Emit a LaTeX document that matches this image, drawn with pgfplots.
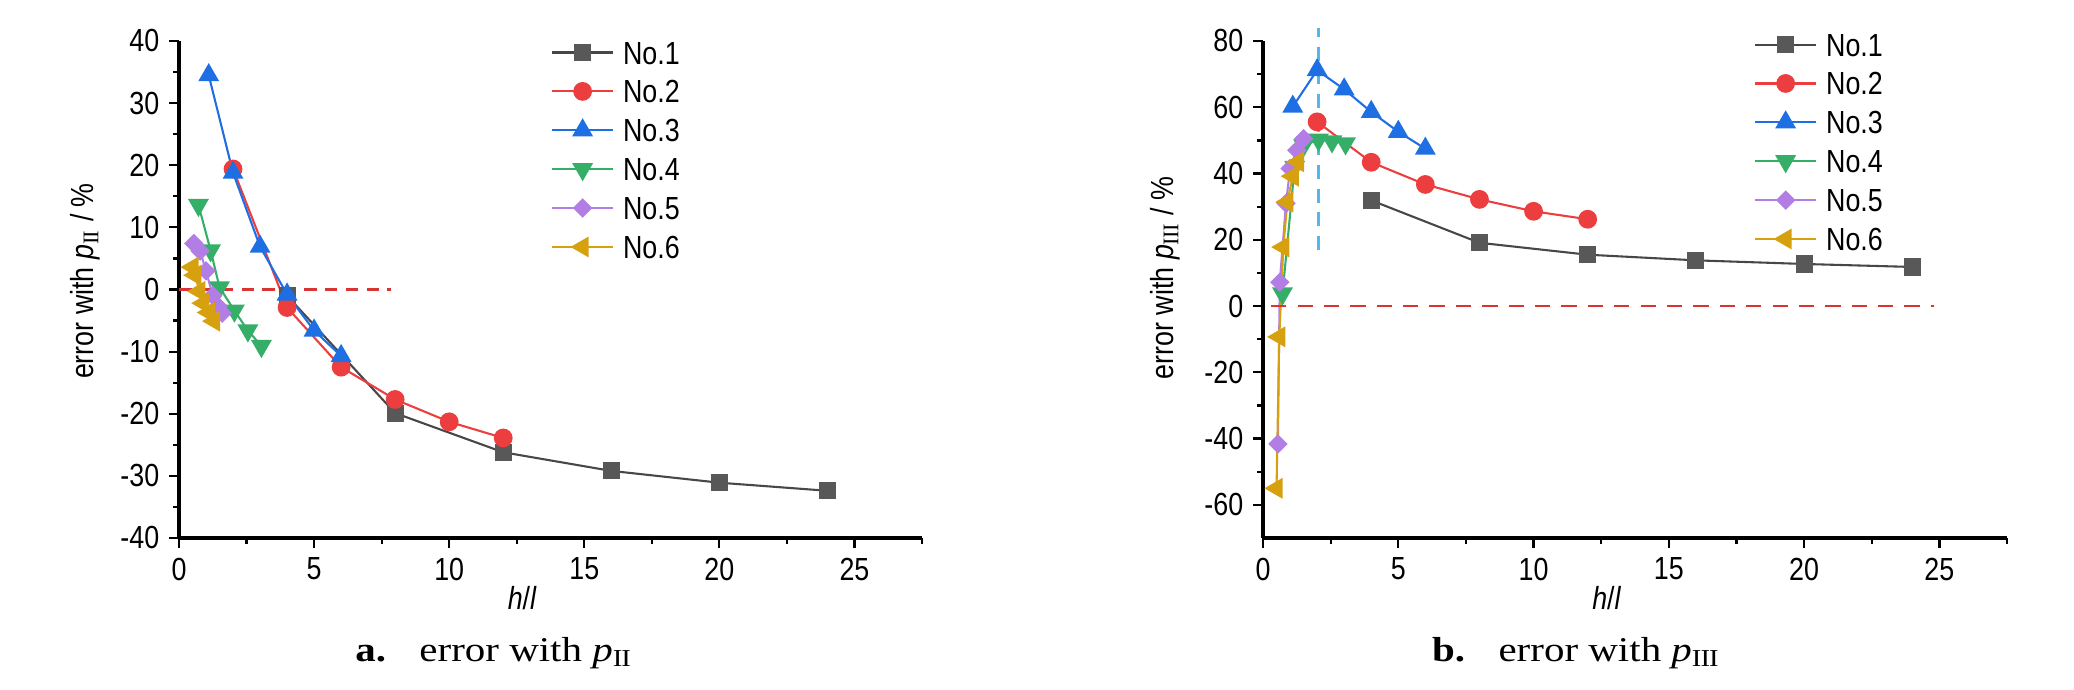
\documentclass[border=0pt]{standalone}
\usepackage{fontspec}
\setmainfont{Liberation Serif}
\setsansfont[FakeStretch=0.84]{Liberation Sans}
\newfontfamily\capfont[FakeStretch=1.18]{Liberation Serif}
\usepackage{pgfplots}
\pgfplotsset{compat=1.18}
\definecolor{c1}{HTML}{474747}
\definecolor{c1m}{HTML}{585858}
\definecolor{c2}{HTML}{EC3E3E}
\definecolor{c3}{HTML}{1E6FE3}
\definecolor{c4}{HTML}{35AE68}
\definecolor{c5}{HTML}{B27EE6}
\definecolor{c6}{HTML}{D6A00E}
\definecolor{zred}{HTML}{D93434}
\definecolor{zblue}{HTML}{55B6EE}
\newcommand{\chartfont}{\sffamily\fontsize{11.5}{13.5}\selectfont}
\pgfplotsset{
  myax/.style={
    scale only axis, anchor=south west,
    axis x line*=bottom, axis y line*=left,
    axis line style={-, line width=1.1pt, black},
    tick align=outside,
    major tick length=3.6pt, minor tick length=2pt,
    every tick/.style={line width=0.8pt, black},
    xmin=0, xmax=27.5, xtick={0,5,...,25}, minor xtick={2.5,7.5,...,27.5},
    ticklabel style={font=\chartfont},
    /pgf/number format/assume math mode=true,
    label style={font=\chartfont},
    xlabel={\textit{h}/\textit{l}},
    legend style={draw=none, fill=none, inner sep=0pt, outer sep=0pt,
      font=\chartfont, row sep=5.7pt,
      nodes={inner sep=0pt, text height=8.3pt, text depth=0pt},
      /tikz/every odd column/.append style={column sep=3.2pt},
      cells={anchor=west}},
    legend image code/.code={\draw[mark repeat=2,mark phase=2,#1] plot coordinates {(0pt,0pt) (11pt,0pt) (22pt,0pt)};},
    every axis plot/.append style={line width=0.75pt},
  },
  s1/.style={color=c1, mark=square*, mark size=2.7pt, mark options={fill=c1m, draw=c1m}},
  s2/.style={color=c2, mark=*, mark size=3pt, mark options={fill=c2}},
  s3/.style={color=c3, mark=triangle*, mark size=3.6pt, mark options={fill=c3}},
  s4/.style={color=c4, mark=triangle*, mark size=3.6pt, mark options={fill=c4, rotate=180}},
  s5/.style={color=c5, mark=square*, mark size=2.1pt, mark options={fill=c5, rotate=45}},
  s6/.style={color=c6, mark=triangle*, mark size=3.6pt, mark options={fill=c6, rotate=90}},
}
\begin{document}
\begin{tikzpicture}
\path[use as bounding box] (0,0) rectangle (746.64pt,248.4pt);
% ---------- a ----------
\begin{axis}[myax,
  at={(64.44pt,54.72pt)}, width=267.48pt, height=178.92pt,
  ymin=-40, ymax=40, ytick={-40,-30,...,40}, minor ytick={-35,-25,...,35},
  ylabel={error with \textit{p}\textsubscript{\rmfamily I\kern-0.04em I} / \%},
  ylabel style={at={(axis description cs:-0.1265,0.517)}, anchor=center},
  xlabel style={at={(axis description cs:0.462,-0.12)}, anchor=center},
  legend style={at={(0.5007,1.0)}, anchor=north west},
]
\addplot[s1] coordinates {(4,-1) (8,-19.9) (12,-26.2) (16,-29.2) (20,-31.1) (24,-32.4)};
\addlegendentry{No.1}
\addplot[s2] coordinates {(2,19.4) (4,-2.9) (6,-12.5) (8,-17.7) (10,-21.3) (12,-23.9)};
\addlegendentry{No.2}
\addplot[s3] coordinates {(1.1,34.5) (2,18.8) (3,6.9) (4,-0.8) (5,-6.6) (6,-10.7)};
\addlegendentry{No.3}
\addplot[s4] coordinates {(0.72,13.6) (1.17,6.3) (1.5,0.35) (2.05,-3.4) (2.55,-6.6) (3.05,-9.1)};
\addlegendentry{No.4}
\addplot[s5] coordinates {(0.55,7.4) (0.78,6.2) (1.0,3.0) (1.25,-1.0) (1.45,-2.7) (1.6,-3.8)};
\addlegendentry{No.5}
\addplot[s6] coordinates {(0.5,3.6) (0.6,2.3) (0.75,-0.3) (0.9,-2.2) (1.1,-3.7) (1.3,-5.1)};
\addlegendentry{No.6}
\addplot[forget plot, zred, line width=0.8pt, dash pattern=on 4.5pt off 3pt] coordinates {(0,0) (7.85,0)};
\end{axis}
% ---------- b ----------
\begin{axis}[myax, clip=false,
  at={(454.68pt,54.72pt)}, width=267.84pt, height=178.92pt,
  ymin=-70, ymax=80, ytick={-60,-40,...,80}, minor ytick={-50,-30,...,70},
  ylabel={error with \textit{p}\textsubscript{\rmfamily I\kern-0.04em I\kern-0.04em I} / \%},
  ylabel style={at={(axis description cs:-0.1317,0.523)}, anchor=center},
  xlabel style={at={(axis description cs:0.462,-0.121)}, anchor=center},
  legend style={at={(0.66,1.016)}, anchor=north west},
]
\addplot[s1] coordinates {(4,31.9) (8,19.1) (12,15.5) (16,13.8) (20,12.7) (24,11.8)};
\addlegendentry{No.1}
\addplot[s2] coordinates {(2,55.6) (4,43.4) (6,36.7) (8,32.2) (10,28.6) (12,26.2)};
\addlegendentry{No.2}
\addplot[s3] coordinates {(1.1,60.2) (2,71.2) (3,65.4) (4,58.6) (5,52.6) (6,47.5)};
\addlegendentry{No.3}
\addplot[s4] coordinates {(0.72,3.8) (1.17,42) (1.5,48.5) (2.05,50.2) (2.55,49.7) (3.05,49.1)};
\addlegendentry{No.4}
\addplot[s5] coordinates {(0.55,-41.6) (0.62,7.2) (0.85,31) (1.0,41.5) (1.25,47) (1.5,50.5)};
\addlegendentry{No.5}
\addplot[s6] coordinates {(0.5,-55) (0.6,-9.3) (0.75,17.8) (0.9,31.4) (1.1,39.2) (1.3,43.5)};
\addlegendentry{No.6}
\addplot[forget plot, zred, line width=0.8pt, dash pattern=on 5.5pt off 4pt] coordinates {(0.3,0) (24.8,0)};
\addplot[forget plot, zblue, line width=0.8pt, dash pattern=on 5pt off 3.5pt] coordinates {(2.05,17) (2.05,84)};
\end{axis}
% ---------- captions ----------
\node[anchor=base, font=\capfont\fontsize{12.5}{15}\selectfont] at (177.8pt,10.3pt)
  {\textbf{a.}\hspace{12pt}error with \textit{p}\textsubscript{I\kern-0.04em I}};
\node[anchor=base, font=\capfont\fontsize{12.5}{15}\selectfont] at (567.4pt,10.3pt)
  {\textbf{b.}\hspace{12pt}error with \textit{p}\textsubscript{I\kern-0.04em I\kern-0.04em I}};
\end{tikzpicture}
\end{document}
